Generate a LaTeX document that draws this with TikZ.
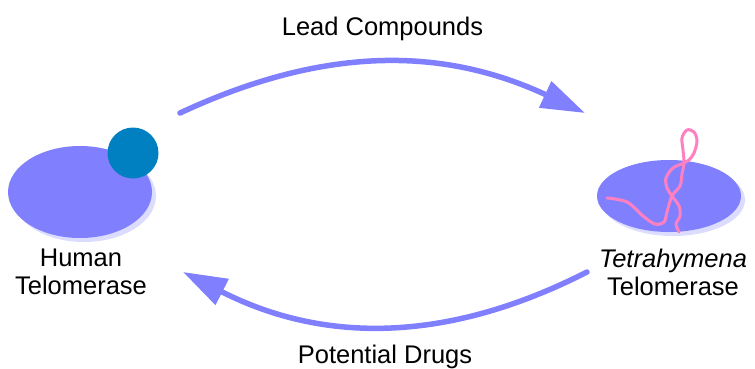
\documentclass[tikz,border=0pt]{standalone}
\usepackage{fontspec}
\setmainfont{Liberation Sans}
\usepackage{xcolor}
\usetikzlibrary{positioning,arrows.meta,shapes.geometric,shadows}
\definecolor{telblue}{HTML}{8080FF}
\definecolor{telshade}{HTML}{DCDCFF}
\definecolor{subunit}{HTML}{0080C0}
\definecolor{rnapink}{HTML}{FF80C0}

\begin{document}
\begin{tikzpicture}[x=1pt,y=1pt,auto,
    every node/.style={font=\fontsize{25.5}{28}\selectfont},
    enzyme/.style={ellipse,fill=telblue,inner sep=0pt,
      drop shadow={fill=telshade,opacity=1,shadow xshift=4pt,shadow yshift=-4pt}},
    flow/.style={draw=telblue,line width=5.5pt,line cap=round,
      -{Triangle[length=44pt,width=28pt]}},
    flowlabel/.style={inner sep=19pt},
    rna/.style={draw=rnapink,line width=3pt,line cap=round}]
  \useasboundingbox (0,0) rectangle (755,-368);
  \node[enzyme,minimum width=144pt,minimum height=92pt] (human) at (80,-192) {};
  \node[circle,fill=subunit,inner sep=0pt,minimum size=51pt] (subunit) at (133,-153) {};
  \node[enzyme,minimum width=144pt,minimum height=72pt] (tetra) at (669,-196) {};
  \draw[rna] plot[smooth,tension=0.55] coordinates {(607,-198) (627,-202) (643,-216)
    (655,-224) (664,-222) (667,-212) (672,-196) (680,-186) (682,-174) (684,-163)
    (683,-150) (682,-138) (687,-130) (694,-132) (697,-141) (694,-153) (689,-160)
    (684,-163) (673,-168) (666,-178) (667,-188) (672,-196) (679,-206) (680,-216)
    (676,-224) (679,-232)};
  \node[anchor=north,align=center,inner sep=0pt] (humanname) at (81,-249) {Human\\Telomerase};
  \node[anchor=north,align=center,inner sep=0pt] (tetraname) at (673,-249) {\textit{Tetrahymena}\\Telomerase};
  \coordinate (humanout) at (180,-113);
  \coordinate (tetrain) at (585,-113);
  \coordinate (tetraout) at (587,-272);
  \coordinate (humanin) at (183,-272);
  \draw[flow] (humanout) to[bend left=25] node[flowlabel] (lead) {Lead Compounds} (tetrain);
  \draw[flow] (tetraout) to[bend left=27] node[flowlabel,inner sep=17pt] (drugs) {Potential Drugs} (humanin);
\end{tikzpicture}
\end{document}
